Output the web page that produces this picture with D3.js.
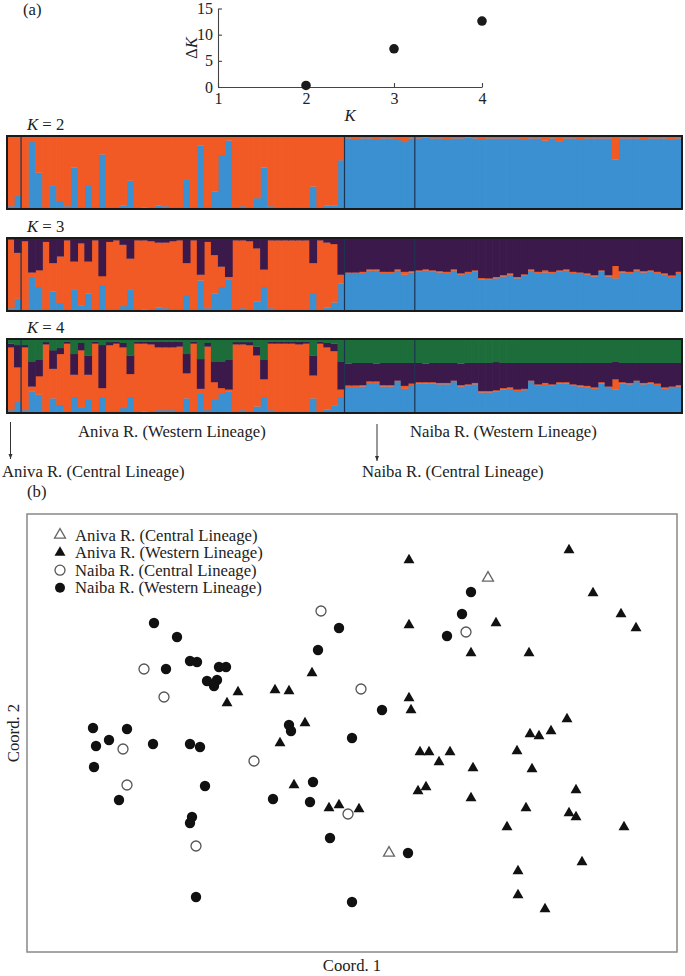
<!DOCTYPE html>
<html><head><meta charset="utf-8">
<script src="https://cdn.jsdelivr.net/npm/d3@7/dist/d3.min.js"></script>
<style>
body{margin:0;background:#fff}
svg{display:block}
text{font-family:"Liberation Serif","Times New Roman",serif;fill:#222;font-size:16.7px}
</style>
</head><body>
<svg id="c" width="685" height="976"></svg>
<script>
// ---------- Delta K ----------
const kValues = [2, 3, 4];
const deltaK = [0.3, 7.3, 12.6];
const kTicks = [1, 2, 3, 4];
const dkTicks = [0, 5, 10, 15];

// ---------- STRUCTURE (96 individuals) ----------
const groups = ["Aniva R. (Central Lineage)", "Aniva R. (Western Lineage)", "Naiba R. (Central Lineage)", "Naiba R. (Western Lineage)"];
const groupSizes = [2, 46, 10, 38];

const k2Blue = [
 .04,.18,
 .03,.92,.50,.03,.32,.11,.04,.57,.03,.33, .03,.75,.03,.03,.05,.39,.03,.02,.03,.05,
 .04,.03,.03,.41,.03,.87,.03,.24,.74,.94, .03,.04,.03,.15,.57,.04,.03,.03,.03,.03,
 .03,.31,.03,.05,.05,.67,
 .97,.96,.97,.97,.96,.97,.97,.96,.92,.97,
 .97,.98,.97,.97,.96,.97,.97,.98,.97,.96, .97,.97,.97,.97,.97,.96,.97,.97,.94,.97,
 .93,.97,.97,.96,.97,.97,.97,.97,.68,.97, .97,.97,.96,.97,.97,.97,.95,.97
];

const k3Blue = [
 .04,.17,
 .03,.47,.33,.03,.27,.11,.03,.30,.08,.24, .03,.36,.03,.03,.07,.30,.03,.02,.03,.05,
 .04,.03,.03,.22,.03,.42,.04,.24,.33,.43, .03,.04,.03,.13,.33,.04,.03,.03,.03,.03,
 .03,.25,.03,.05,.12,.38,
 .51,.51,.52,.555,.555,.52,.52,.555,.50,.53,
 .54,.555,.54,.53,.52,.555,.50,.52,.54,.435, .43,.45,.475,.50,.45,.485,.555,.52,.53,.52,
 .54,.555,.52,.51,.50,.475,.54,.475,.45,.53, .52,.555,.53,.54,.52,.50,.47,.52
];
const k3Purple = [
 .02,.20,
 .04,.47,.44,.05,.34,.25,.03,.32,.07,.32, .03,.52,.05,.03,.09,.28,.03,.03,.04,.06,
 .06,.04,.03,.34,.03,.50,.05,.23,.39,.53, .03,.03,.04,.14,.43,.03,.03,.03,.03,.03,
 .03,.34,.03,.06,.08,.50,
 .47,.47,.46,.425,.425,.46,.46,.425,.46,.45,
 .44,.425,.44,.45,.46,.425,.48,.46,.44,.545, .55,.53,.505,.48,.53,.495,.425,.46,.44,.46,
 .44,.425,.46,.47,.48,.505,.44,.505,.38,.45, .46,.425,.45,.44,.46,.48,.51,.46
];

const k4Blue = [
 .04,.15,
 .04,.29,.25,.03,.20,.11,.03,.22,.08,.18, .03,.22,.03,.03,.07,.22,.03,.02,.03,.04,
 .04,.04,.03,.20,.03,.27,.04,.18,.27,.29, .03,.04,.03,.09,.22,.04,.03,.03,.03,.03,
 .03,.20,.03,.05,.10,.22,
 .355,.355,.36,.41,.41,.36,.36,.42,.33,.38,
 .40,.40,.40,.39,.39,.42,.36,.37,.39,.28, .28,.29,.32,.33,.30,.31,.42,.37,.38,.37,
 .40,.40,.37,.36,.35,.33,.40,.34,.32,.40, .39,.42,.39,.40,.38,.33,.34,.36
];
const k4Purple = [
 .05,.30,
 .03,.34,.22,.03,.25,.08,.03,.28,.10,.26, .03,.58,.04,.03,.06,.25,.03,.03,.04,.08,
 .08,.08,.07,.26,.03,.40,.05,.28,.36,.40, .03,.03,.04,.12,.26,.03,.03,.03,.03,.04,
 .03,.27,.03,.06,.10,.38,
 .295,.305,.30,.25,.24,.30,.30,.24,.31,.28,
 .26,.25,.26,.27,.27,.24,.29,.29,.27,.38, .38,.38,.34,.33,.36,.35,.24,.29,.27,.29,
 .26,.26,.29,.30,.31,.33,.26,.32,.24,.26, .27,.24,.27,.26,.28,.33,.32,.30
];
const k4Green = [
 .06,.08,
 .08,.30,.28,.04,.15,.12,.03,.20,.05,.22, .03,.08,.04,.03,.05,.22,.03,.03,.03,.03,
 .03,.03,.03,.20,.03,.27,.05,.30,.30,.28, .04,.04,.04,.10,.28,.03,.03,.03,.03,.03,
 .03,.22,.03,.05,.06,.30,
 .33,.32,.32,.32,.33,.32,.32,.32,.32,.32,
 .32,.33,.32,.32,.32,.32,.33,.32,.32,.32, .32,.31,.32,.32,.32,.32,.32,.32,.32,.32,
 .32,.32,.32,.32,.32,.32,.32,.32,.30,.32, .32,.32,.32,.32,.32,.32,.32,.32
];

// ---------- PCoA points [Coord.1, Coord.2] ----------
const anivaCentral = [[461,374],[362,99]];
const anivaWestern = [
 [285,279],[211,260],[200,249],[248,262],[262,261],[278,229],[382,392],[382,327],[469,329],[444,299],
 [502,299],[542,402],[566,359],[594,338],[609,324],[382,254],[384,242],[540,233],[253,209],[267,167],
 [302,144],[312,147],[332,143],[393,200],[402,200],[423,200],[412,190],[446,184],[391,161],[399,165],
 [444,154],[503,218],[512,216],[524,221],[490,201],[505,183],[549,162],[499,144],[542,139],[549,135],
 [480,125],[597,125],[555,90],[491,81],[491,57],[518,43]
];
const naibaCentral = [[294,341],[439,320],[117,283],[137,255],[334,263],[96,203],[100,167],[227,191],[169,106],[321,138]];
const naibaWestern = [
 [312,324],[291,302],[127,329],[150,315],[163,291],[170,290],[139,283],[192,285],[199,285],[180,271],
 [190,272],[187,266],[262,227],[264,221],[66,224],[100,223],[444,360],[435,338],[420,316],[355,242],
 [69,206],[82,212],[126,208],[163,208],[173,205],[67,185],[178,166],[92,152],[165,135],[163,129],
 [169,55],[286,170],[246,153],[283,150],[303,114],[325,50],[325,214],[381,99]
];

// ---------- drawing ----------
const svg = d3.select("#c");
const colors = {blue:"#3a90d1", orange:"#f15a24", purple:"#3b1a4b", green:"#1d6d3b"};

// (a) Delta K panel
svg.append("text").attr("x",23).attr("y",15).text("(a)");
const kx = d3.scaleLinear().domain([1,4]).range([218,482]);
const ky = d3.scaleLinear().domain([0,15]).range([87,8.5]);
const ax = svg.append("g").attr("transform","translate(0,87)")
  .call(d3.axisBottom(kx).tickValues(kTicks).tickFormat(d3.format("d")).tickSize(-4).tickSizeOuter(0).tickPadding(6));
const ay = svg.append("g").attr("transform","translate(218,0)")
  .call(d3.axisLeft(ky).tickValues(dkTicks).tickSize(-4).tickSizeOuter(0).tickPadding(5));
[ax, ay].forEach(a => {
  a.selectAll("path,line").attr("stroke","#444").attr("stroke-width",1.1);
  a.selectAll("text").style("font-size","16px").style("font-family",'"Liberation Serif",serif').attr("fill","#222");
});
svg.selectAll("circle.dk").data(kValues).join("circle").attr("class","dk")
  .attr("cx",(d)=>kx(d)).attr("cy",(d,i)=>ky(deltaK[i])).attr("r",4.8).attr("fill","#1a1a1a");
const dkl = svg.append("text").attr("transform","translate(197,48) rotate(-90)").attr("text-anchor","middle");
dkl.append("tspan").text("Δ");
dkl.append("tspan").attr("font-style","italic").text("K");
svg.append("text").attr("x",350).attr("y",121).attr("text-anchor","middle").attr("font-style","italic").text("K");

// STRUCTURE bars
const N = k2Blue.length;
const xb = d3.scaleBand().domain(d3.range(N)).range([7,682]);
const rows2 = d3.range(N).map(i => ({blue:k2Blue[i], orange:1-k2Blue[i]}));
const rows3 = d3.range(N).map(i => ({blue:k3Blue[i], purple:k3Purple[i], orange:1-k3Blue[i]-k3Purple[i]}));
const rows4 = d3.range(N).map(i => ({blue:k4Blue[i], purple:k4Purple[i], green:k4Green[i], orange:1-k4Blue[i]-k4Purple[i]-k4Green[i]}));
const bounds = [];
groupSizes.reduce((acc,s)=>{ bounds.push(acc+s); return acc+s; },0);

function structure(top, bottom, keys, rows, k) {
  const y = d3.scaleLinear().domain([0,1]).range([bottom, top]);
  const g = svg.append("g");
  const series = d3.stack().keys(keys)(rows);
  g.selectAll("g").data(series).join("g").attr("fill", s => colors[s.key])
    .selectAll("rect").data(s => s).join("rect")
    .attr("x", (d,i) => xb(i)).attr("width", xb.bandwidth()+0.7)
    .attr("y", d => y(d[1])).attr("height", d => Math.max(0, y(d[0]) - y(d[1]) + 0.3));
  g.selectAll("line.div").data(bounds.slice(0,3)).join("line").attr("class","div")
    .attr("x1", d => xb(d)).attr("x2", d => xb(d)).attr("y1", top).attr("y2", bottom)
    .attr("stroke","#1c3450").attr("stroke-width",1.2);
  g.append("rect").attr("x",7).attr("y",top).attr("width",675).attr("height",bottom-top)
    .attr("fill","none").attr("stroke","#1a1a1a").attr("stroke-width",2);
  const t = svg.append("text").attr("x",27).attr("y",top-6.5);
  t.append("tspan").attr("font-style","italic").text("K");
  t.append("tspan").text(" = " + k);
}
structure(136, 209, ["blue","orange"], rows2, 2);
structure(238, 311, ["blue","orange","purple"], rows3, 3);
structure(339, 413, ["blue","orange","purple","green"], rows4, 4);

// group labels and arrows
svg.append("defs").append("marker").attr("id","ah").attr("viewBox","0 0 10 10").attr("refX",10).attr("refY",5)
  .attr("markerWidth",5).attr("markerHeight",6).attr("orient","auto")
  .append("path").attr("d","M0,1 L10,5 L0,9 Z").attr("fill","#333");
[[10.5,422,459],[377,424,461]].forEach(a => {
  svg.append("line").attr("x1",a[0]).attr("x2",a[0]).attr("y1",a[1]).attr("y2",a[2])
    .attr("stroke","#333").attr("stroke-width",1).attr("marker-end","url(#ah)");
});
svg.append("text").attr("x",78).attr("y",437).text(groups[1]);
svg.append("text").attr("x",410).attr("y",437).text(groups[3]);
svg.append("text").attr("x",2).attr("y",477).text(groups[0]);
svg.append("text").attr("x",362).attr("y",477).text(groups[2]);

// (b) PCoA
svg.append("text").attr("x",27).attr("y",497).text("(b)");
const sx = d3.scaleLinear().domain([0,650]).range([27,677]);
const sy = d3.scaleLinear().domain([0,438]).range([952,514]);
svg.append("rect").attr("x",sx(0)).attr("y",sy(438)).attr("width",sx(650)-sx(0)).attr("height",sy(0)-sy(438))
  .attr("fill","none").attr("stroke","#888").attr("stroke-width",1.5);
const tri = d3.symbol(d3.symbolTriangle, 52);
function drawTri(data, open) {
  svg.append("g").selectAll("path").data(data).join("path")
    .attr("d", tri).attr("transform", d => `translate(${sx(d[0])},${sy(d[1])})`)
    .attr("fill", open ? "#fff" : "#111").attr("stroke", open ? "#666" : "none").attr("stroke-width",1.3);
}
function drawCirc(data, open) {
  svg.append("g").selectAll("circle").data(data).join("circle")
    .attr("cx", d => sx(d[0])).attr("cy", d => sy(d[1])).attr("r", open ? 5 : 5.2)
    .attr("fill", open ? "#fff" : "#111").attr("stroke", open ? "#555" : "none").attr("stroke-width",1.3);
}
drawTri(anivaWestern, false);
drawCirc(naibaWestern, false);
drawCirc(naibaCentral, true);
drawTri(anivaCentral, true);

// legend
const legend = [
  {label:groups[0], shape:"tri", open:true},
  {label:groups[1], shape:"tri", open:false},
  {label:groups[2], shape:"circ", open:true},
  {label:groups[3], shape:"circ", open:false}
];
legend.forEach((l,i) => {
  const cy = 535 + i*17.6;
  if (l.shape === "tri") {
    svg.append("path").attr("d", tri).attr("transform", `translate(60,${cy})`)
      .attr("fill", l.open ? "#fff" : "#111").attr("stroke", l.open ? "#666" : "none").attr("stroke-width",1.3);
  } else {
    svg.append("circle").attr("cx",60).attr("cy",cy).attr("r",5)
      .attr("fill", l.open ? "#fff" : "#111").attr("stroke", l.open ? "#555" : "none").attr("stroke-width",1.3);
  }
  svg.append("text").attr("x",75).attr("y",cy+5.5).text(l.label);
});
svg.append("text").attr("x",352).attr("y",971).attr("text-anchor","middle").text("Coord. 1");
svg.append("text").attr("transform","translate(19,733) rotate(-90)").attr("text-anchor","middle").text("Coord. 2");
</script>
</body></html>
